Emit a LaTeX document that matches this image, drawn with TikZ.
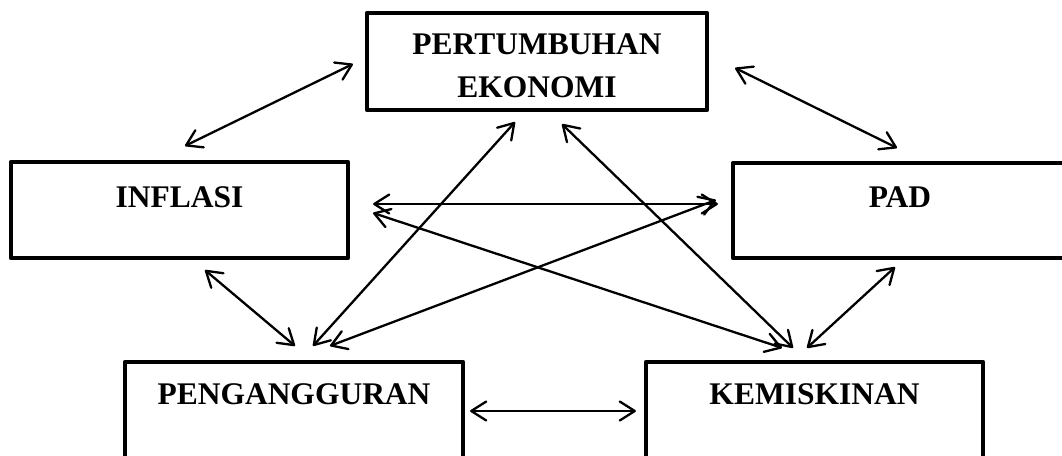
\documentclass[tikz,border=0pt]{standalone}
\usepackage{fontspec}
\setmainfont{Liberation Serif}
\usetikzlibrary{arrows.meta,calc}
\tikzset{
  box/.style={draw=black, line width=4.2pt, fill=white, inner sep=0pt, line join=round,
    font=\fontsize{31.5}{43}\selectfont\bfseries},
  link/.style={line width=2.3pt, line cap=round, {Straight Barb[length=15pt,width=19pt,line cap=round,line join=round]}-{Straight Barb[length=15pt,width=19pt,line cap=round,line join=round]}}
}
\begin{document}
\begin{tikzpicture}[x=1pt,y=-1pt]
\useasboundingbox (0,0) rectangle (1062,455);
\clip (0,0) rectangle (1062,455);
\fill[white] (0,0) rectangle (1062,455);
% boxes
\node[box, minimum width=340pt, minimum height=97pt, align=center] (pe) at (537,61.5)
  {\rule{0pt}{30pt}PERTUMBUHAN\\EKONOMI};
\node[box, minimum width=337pt, text height=45pt, text depth=51pt] (inf) at (179.5,210) {INFLASI};
\node[box, minimum width=334pt, text height=44pt, text depth=51pt] (pad) at (900,210.5) {PAD};
\node[box, minimum width=338pt, text height=42pt, text depth=54pt] (peng) at (294,410) {PENGANGGURAN};
\node[box, minimum width=337pt, text height=42pt, text depth=54pt] (kem) at (814.5,410) {KEMISKINAN};
% connectors
\draw[link] ($(inf.north)+(5.5,-14)$) -- ($(pe.west)+(-12,2.5)$);
\draw[link] ($(pe.east)+(26,6.5)$) -- ($(pad.north)+(-3,-13)$);
\draw[link] ($(inf.east)+(23,-6)$) -- ($(pad.west)+(-13,-6.5)$);
\draw[link] ($(inf.east)+(23,3)$) -- ($(kem.north)+(-32.5,-12)$);
\draw[link] ($(peng.north)+(36,-14)$) -- ($(pad.west)+(-15,-10.5)$);
\draw[link] ($(pe.south)+(-22,10)$) -- ($(peng.north)+(19,-14)$);
\draw[link] ($(pe.south)+(25,12)$) -- ($(kem.north)+(-21.5,-12)$);
\draw[link] ($(pad.south)+(-5,7)$) -- ($(kem.north)+(-7.5,-12)$);
\draw[link] ($(inf.south)+(25.5,10)$) -- ($(peng.north)+(1,-14)$);
\draw[link] ($(peng.east)+(5,1)$) -- ($(kem.west)+(-8,1)$);
\end{tikzpicture}
\end{document}
